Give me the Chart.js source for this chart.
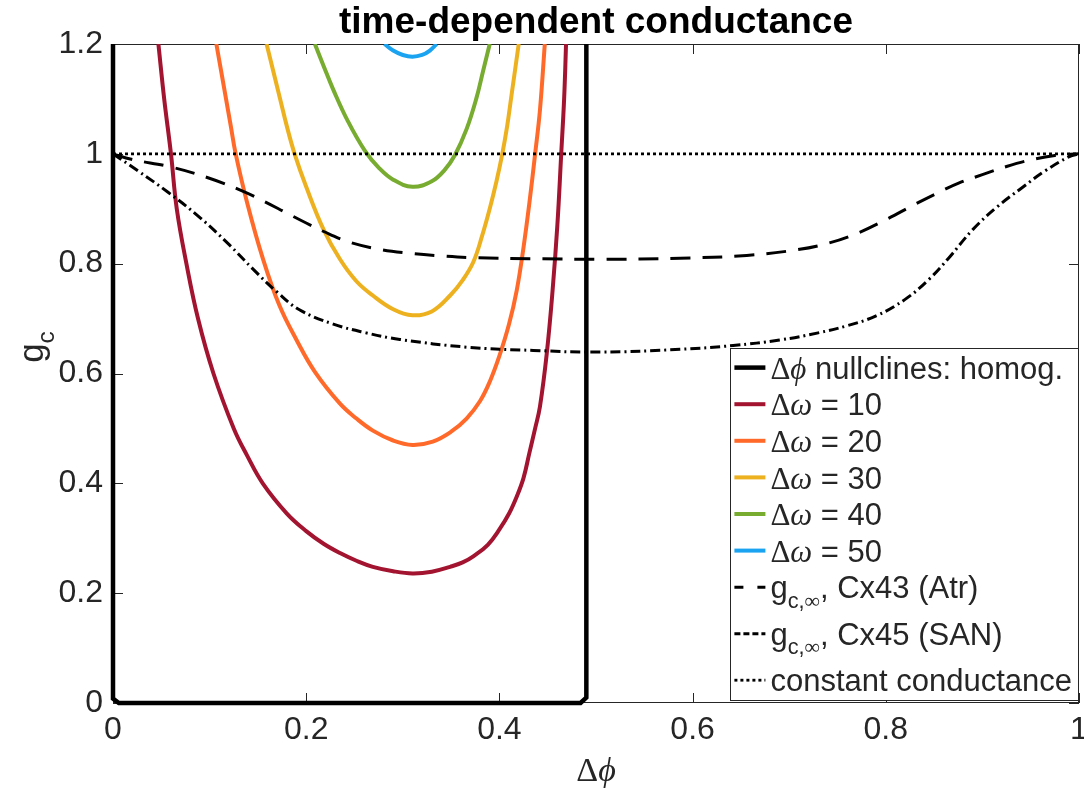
<!DOCTYPE html>
<html lang="en">
<head>
  <meta charset="UTF-8">
  <title>time-dependent conductance</title>
  <script src="https://cdn.jsdelivr.net/npm/chart.js@4.4.0/dist/chart.umd.min.js"></script>
  <style>
    html, body { margin: 0; padding: 0; background: #fff; }
    #wrap { width: 1084px; height: 789px; position: relative; }
  </style>
</head>
<body>
  <div id="wrap"><canvas id="chart"></canvas></div>
  <script>
    // all curves as [Δφ, g_c]
    const nullcline = [[0, 1.2], [0, 0.008], [0.006, 0], [0.484, 0], [0.49, 0.01], [0.49, 1.2]];

    const dw10 = [[0.047, 1.2], [0.053, 1.1], [0.060, 1.0], [0.066, 0.9], [0.076, 0.8], [0.088, 0.7],
      [0.104, 0.6], [0.125, 0.5], [0.139, 0.45], [0.155, 0.4], [0.18, 0.345], [0.2, 0.313],
      [0.218, 0.29], [0.235, 0.273], [0.252, 0.259], [0.269, 0.248], [0.29, 0.24], [0.31, 0.236],
      [0.33, 0.239], [0.349, 0.248], [0.362, 0.256], [0.373, 0.267], [0.388, 0.288], [0.400, 0.316],
      [0.410, 0.345], [0.418, 0.376], [0.425, 0.41], [0.431, 0.455], [0.437, 0.5], [0.442, 0.54],
      [0.449, 0.636], [0.455, 0.75], [0.460, 0.87], [0.464, 1.0], [0.467, 1.1], [0.469, 1.2]];

    const dw20 = [[0.107, 1.2], [0.112, 1.15], [0.117, 1.1], [0.122, 1.05], [0.127, 1.0], [0.139, 0.91],
      [0.155, 0.81], [0.172, 0.725], [0.19, 0.661], [0.209, 0.603], [0.235, 0.545], [0.252, 0.518],
      [0.269, 0.496], [0.29, 0.478], [0.31, 0.47], [0.331, 0.476], [0.350, 0.494], [0.366, 0.518],
      [0.380, 0.55], [0.390, 0.585], [0.400, 0.632], [0.410, 0.69], [0.418, 0.752], [0.425, 0.83],
      [0.431, 0.91], [0.437, 1.0], [0.442, 1.08], [0.447, 1.2]];

    const dw30 = [[0.159, 1.2], [0.166, 1.15], [0.173, 1.1], [0.18, 1.05], [0.188, 1.0], [0.2, 0.94],
      [0.218, 0.862], [0.235, 0.808], [0.252, 0.768], [0.269, 0.742], [0.29, 0.717], [0.31, 0.706],
      [0.33, 0.713], [0.349, 0.742], [0.362, 0.77], [0.373, 0.803], [0.382, 0.85], [0.390, 0.9],
      [0.397, 0.95], [0.403, 1.0], [0.408, 1.05], [0.412, 1.1], [0.420, 1.2]];

    const dw40 = [[0.209, 1.2], [0.218, 1.16], [0.228, 1.117], [0.243, 1.06], [0.261, 1.005], [0.275, 0.975],
      [0.29, 0.953], [0.31, 0.94], [0.33, 0.95], [0.343, 0.97], [0.354, 0.998], [0.366, 1.045],
      [0.376, 1.1], [0.383, 1.15], [0.390, 1.2]];

    const dw50 = [[0.281, 1.2], [0.29, 1.188], [0.3, 1.18], [0.31, 1.177], [0.32, 1.18], [0.328, 1.188], [0.335, 1.2]];

    const cx43 = [[0, 1], [0.019, 0.99], [0.06, 0.976], [0.099, 0.956], [0.133, 0.933], [0.157, 0.913],
      [0.18, 0.892], [0.2, 0.874], [0.225, 0.853], [0.245, 0.839], [0.276, 0.826], [0.306, 0.819],
      [0.34, 0.814], [0.371, 0.811], [0.435, 0.809], [0.504, 0.808], [0.587, 0.810], [0.656, 0.815],
      [0.707, 0.825], [0.74, 0.837], [0.77, 0.855], [0.80, 0.88], [0.83, 0.908], [0.855, 0.93],
      [0.876, 0.947], [0.9, 0.962], [0.925, 0.977], [0.95, 0.989], [0.975, 0.997], [1, 1]];

    const cx45 = [[0, 1], [0.025, 0.97], [0.057, 0.93], [0.09, 0.884], [0.12, 0.835], [0.145, 0.79],
      [0.17, 0.748], [0.193, 0.716], [0.228, 0.69], [0.262, 0.674], [0.297, 0.662], [0.366, 0.648],
      [0.435, 0.642], [0.504, 0.639], [0.587, 0.644], [0.642, 0.651], [0.69, 0.661], [0.73, 0.674],
      [0.76, 0.687], [0.79, 0.705], [0.82, 0.735], [0.845, 0.772], [0.865, 0.81], [0.89, 0.862],
      [0.915, 0.903], [0.94, 0.937], [0.965, 0.969], [0.99, 0.995], [1, 1]];

    const constG = [[0, 1], [1, 1]];

    const seriesLabels = ['Δϕ nullclines: homog.', 'Δω = 10', 'Δω = 20', 'Δω = 30', 'Δω = 40', 'Δω = 50',
      'g_{c,∞}, Cx43 (Atr)', 'g_{c,∞}, Cx45 (SAN)', 'constant conductance'];
    const series = [nullcline, dw10, dw20, dw30, dw40, dw50, cx43, cx45, constG];

    const xTickStep = 0.2;
    const yTickStep = 0.2;

    const SANS = '"Liberation Sans", Arial, Helvetica, sans-serif';
    const SERIF = '"Liberation Serif", "DejaVu Serif", serif';
    const INK = '#262626';

    const styles = [
      { color: '#000000', width: 4.5, dash: [], tension: 0 },
      { color: '#A2142F', width: 4, dash: [], tension: 0.4 },
      { color: '#FF6A2A', width: 4, dash: [], tension: 0.4 },
      { color: '#EDB120', width: 4, dash: [], tension: 0.4 },
      { color: '#77AC30', width: 4, dash: [], tension: 0.4 },
      { color: '#1AA3F0', width: 4, dash: [], tension: 0.4 },
      { color: '#000000', width: 3, dash: [20, 12], tension: 0.4, legendDash: [9, 14] },
      { color: '#000000', width: 3, dash: [10, 4, 2, 4], tension: 0.4, legendDash: [6, 3] },
      { color: '#000000', width: 2.8, dash: [3, 3], tension: 0 }
    ];

    const datasets = series.map((pts, i) => ({
      label: seriesLabels[i],
      data: pts.map(([x, y]) => ({ x, y })),
      showLine: true,
      borderColor: styles[i].color,
      borderWidth: styles[i].width,
      borderDash: styles[i].dash,
      legendDash: styles[i].legendDash,
      tension: styles[i].tension,
      pointRadius: 0,
      fill: false,
      order: series.length - 1 - i,
      clip: i === 0 ? { left: 4, bottom: 4, top: 0, right: 0 } : 0
    }));

    // --- small rich-text helper: subscripts "_{..}" and TeX-like greek ---
    function charFont(ch, size) {
      if ('ωϕφ'.includes(ch)) return `italic ${size}px ${SERIF}`;
      if ('Δ∞'.includes(ch)) return `${size}px ${SERIF}`;
      return `${size}px ${SANS}`;
    }
    function richRuns(text, size) {
      const chars = [];
      let i = 0;
      while (i < text.length) {
        if (text.startsWith('_{', i)) {
          const end = text.indexOf('}', i);
          for (const ch of text.slice(i + 2, end)) chars.push({ ch, size: size * 0.7, dy: size * 0.3 });
          i = end + 1;
        } else {
          chars.push({ ch: text[i], size, dy: 0 });
          i++;
        }
      }
      const runs = [];
      chars.forEach(c => {
        const font = charFont(c.ch, c.size);
        const last = runs[runs.length - 1];
        if (last && last.font === font && last.dy === c.dy) last.t += c.ch;
        else runs.push({ t: c.ch, font, dy: c.dy });
      });
      return runs;
    }
    function richWidth(ctx, runs) {
      let w = 0;
      runs.forEach(r => { ctx.font = r.font; r.w = ctx.measureText(r.t).width; w += r.w; });
      return w;
    }
    function drawRich(ctx, text, x, y, size, align) {
      const runs = richRuns(text, size);
      const w = richWidth(ctx, runs);
      let cx = align === 'center' ? x - w / 2 : x;
      ctx.textAlign = 'left';
      ctx.textBaseline = 'alphabetic';
      runs.forEach(r => { ctx.font = r.font; ctx.fillText(r.t, cx, y + r.dy); cx += r.w; });
      return w;
    }

    // box, inward ticks (all four sides), title and axis labels
    const axesPlugin = {
      id: 'matlabAxes',
      beforeDatasetsDraw(chart) {
        const { ctx, chartArea: a, scales } = chart;
        ctx.save();
        ctx.strokeStyle = INK;
        ctx.lineWidth = 1;
        ctx.strokeRect(a.left + 0.5, a.top + 0.5, a.right - a.left - 1, a.bottom - a.top - 1);
        const len = 10;
        ctx.beginPath();
        scales.x.ticks.forEach(t => {
          const px = Math.round(scales.x.getPixelForValue(t.value)) + 0.5;
          ctx.moveTo(px, a.bottom); ctx.lineTo(px, a.bottom - len);
          ctx.moveTo(px, a.top); ctx.lineTo(px, a.top + len);
        });
        scales.y.ticks.forEach(t => {
          const py = Math.round(scales.y.getPixelForValue(t.value)) + 0.5;
          ctx.moveTo(a.left, py); ctx.lineTo(a.left + len, py);
          ctx.moveTo(a.right, py); ctx.lineTo(a.right - len, py);
        });
        ctx.stroke();
        ctx.restore();
      },
      afterDraw(chart) {
        const { ctx, chartArea: a } = chart;
        const mid = (a.left + a.right) / 2;
        ctx.save();
        ctx.fillStyle = '#000';
        ctx.font = `bold 37px ${SANS}`;
        ctx.textAlign = 'center';
        ctx.textBaseline = 'alphabetic';
        ctx.fillText('time-dependent conductance', mid, 33);
        ctx.fillStyle = INK;
        drawRich(ctx, 'Δϕ', mid, 781, 34, 'center');
        ctx.translate(43, 347);
        ctx.rotate(-Math.PI / 2);
        drawRich(ctx, 'g_{c}', 0, 0, 35, 'center');
        ctx.restore();
      }
    };

    // MATLAB-style legend in the lower right corner
    const legendPlugin = {
      id: 'matlabLegend',
      afterDatasetsDraw(chart) {
        const { ctx, chartArea: a } = chart;
        const size = 31, base = 36.6, subRow = 46.5, pad = 1.5;
        const sets = chart.data.datasets;
        const rows = sets.map(ds => ds.label.includes('_{') ? subRow : base);
        ctx.save();
        let textW = 0;
        sets.forEach(ds => { textW = Math.max(textW, richWidth(ctx, richRuns(ds.label, size))); });
        const w = 40 + textW + 6;
        const h = pad * 2 + rows.reduce((s, r) => s + r, 0);
        const right = a.right - 1, bottom = a.bottom - 3;
        const left = right - w, top = bottom - h;
        ctx.fillStyle = '#fff';
        ctx.fillRect(left, top, w, h);
        ctx.strokeStyle = INK;
        ctx.lineWidth = 1;
        ctx.strokeRect(Math.round(left) + 0.5, Math.round(top) + 0.5, Math.round(w), Math.round(h));
        let y = top + pad;
        sets.forEach((ds, i) => {
          const cy = y + base / 2;
          ctx.beginPath();
          ctx.setLineDash(ds.legendDash || ds.borderDash || []);
          ctx.lineWidth = ds.borderWidth;
          ctx.strokeStyle = ds.borderColor;
          ctx.moveTo(left + 4, cy);
          ctx.lineTo(left + 35, cy);
          ctx.stroke();
          ctx.setLineDash([]);
          ctx.fillStyle = INK;
          drawRich(ctx, ds.label, left + 40, cy + size * 0.36, size, 'left');
          y += rows[i];
        });
        ctx.restore();
      }
    };

    const tickFmt = v => String(+Number(v).toFixed(1));

    new Chart(document.getElementById('chart'), {
      type: 'scatter',
      data: { datasets },
      options: {
        responsive: true,
        maintainAspectRatio: false,
        animation: false,
        events: [],
        layout: { padding: { top: 44, right: 5, left: 0, bottom: 0 } },
        plugins: {
          legend: { display: false },
          tooltip: { enabled: false },
          title: { display: false }
        },
        scales: {
          x: {
            type: 'linear', min: 0, max: 1,
            grid: { display: false, drawTicks: false },
            border: { display: false },
            ticks: {
              stepSize: xTickStep, autoSkip: false, maxRotation: 0, padding: 8,
              color: INK, font: { family: SANS, size: 32 }, callback: tickFmt
            },
            afterFit: s => { s.height = 86; s.paddingLeft = 0; s.paddingRight = 0; }
          },
          y: {
            type: 'linear', min: 0, max: 1.2,
            grid: { display: false, drawTicks: false },
            border: { display: false },
            ticks: {
              stepSize: yTickStep, autoSkip: false, padding: 10,
              color: INK, font: { family: SANS, size: 32 }, callback: tickFmt
            },
            afterFit: s => { s.width = 113; s.paddingTop = 0; s.paddingBottom = 0; }
          }
        }
      },
      plugins: [axesPlugin, legendPlugin]
    });
  </script>
</body>
</html>
